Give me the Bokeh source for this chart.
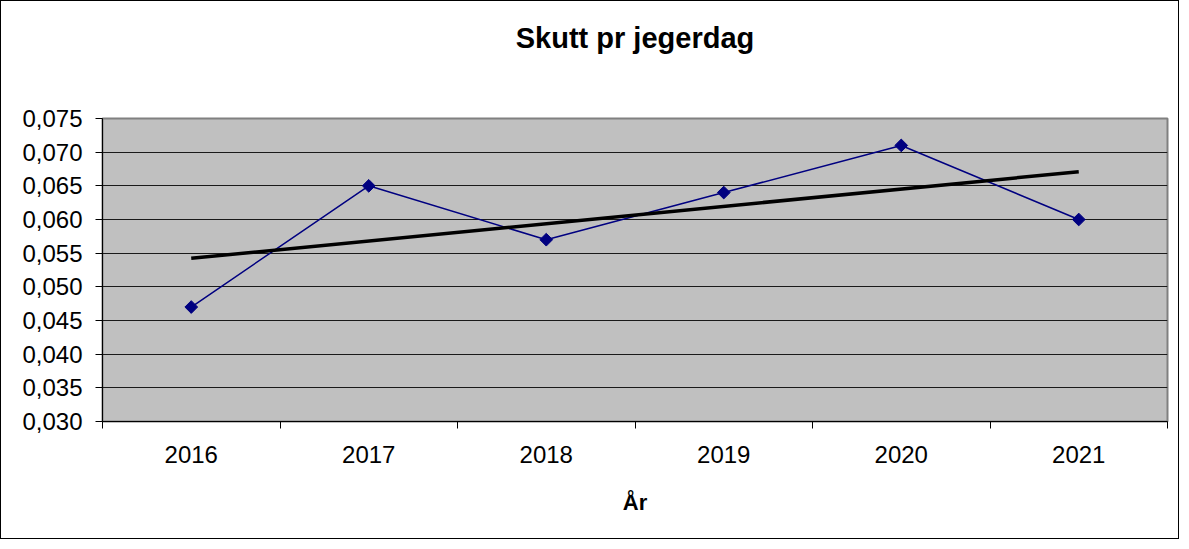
import numpy as np
from bokeh.plotting import figure
from bokeh.models import FixedTicker, Range1d, Title
from bokeh.embed import file_html
from bokeh.resources import INLINE

# ---- data ----
years = ["2016", "2017", "2018", "2019", "2020", "2021"]
values = [0.047, 0.065, 0.057, 0.064, 0.071, 0.060]
y_ticks = [0.030, 0.035, 0.040, 0.045, 0.050, 0.055, 0.060, 0.065, 0.070, 0.075]
y_tick_labels = ["0,030", "0,035", "0,040", "0,045", "0,050",
                 "0,055", "0,060", "0,065", "0,070", "0,075"]
title_text = "Skutt pr jegerdag"
x_title = "År"

FONT = "Liberation Sans"

# category centres on a numeric axis (category i spans i..i+1)
x_pos = [i + 0.5 for i in range(len(years))]
boundaries = list(range(len(years) + 1))

# linear trend line (least squares fit of the series, like Excel's trendline)
slope, intercept = np.polyfit(x_pos, values, 1)
trend_x = [x_pos[0], x_pos[-1]]
trend_y = [slope * x + intercept for x in trend_x]

p = figure(width=1179, height=539, output_backend="svg", toolbar_location=None,
           title=None,
           x_range=Range1d(0, len(years)), y_range=Range1d(y_ticks[0], y_ticks[-1]),
           min_border_left=101, min_border_right=13, min_border_top=117,
           min_border_bottom=119)
p.styles = {"border": "1px solid #000000"}

p.background_fill_color = "#C0C0C0"
p.border_fill_color = "white"
p.outline_line_color = "#808080"
p.outline_line_width = 2

# spacer between plot area and title, then the title itself (further out)
spacer = Title(text=" ", text_font=FONT, text_font_size="29px", standoff=18)
p.add_layout(spacer, "above")
main_title = Title(text=title_text, align="center", text_font=FONT,
                   text_font_size="29px", text_font_style="bold",
                   text_color="black", standoff=26)
p.add_layout(main_title, "above")

# grid
p.xgrid.visible = False
p.ygrid.grid_line_color = "#1a1a1a"
p.ygrid.grid_line_width = 1

# y axis
p.yaxis.ticker = FixedTicker(ticks=y_ticks, minor_ticks=[])
p.yaxis.major_label_overrides = {t: l for t, l in zip(y_ticks, y_tick_labels)}
p.yaxis.major_label_text_font = FONT
p.yaxis.major_label_text_font_size = "24px"
p.yaxis.major_label_text_color = "black"
p.yaxis.major_tick_out = 7
p.yaxis.major_tick_in = 0
p.yaxis.major_tick_line_color = "black"
p.yaxis.axis_line_color = "black"
p.yaxis.major_label_standoff = 13

# x axis
p.xaxis.ticker = FixedTicker(ticks=x_pos, minor_ticks=boundaries)
p.xaxis.major_label_overrides = {x: y for x, y in zip(x_pos, years)}
p.xaxis.major_label_text_font = FONT
p.xaxis.major_label_text_font_size = "24px"
p.xaxis.major_label_text_color = "black"
p.xaxis.major_tick_out = 0
p.xaxis.major_tick_in = 0
p.xaxis.minor_tick_out = 7
p.xaxis.minor_tick_in = 0
p.xaxis.minor_tick_line_color = "black"
p.xaxis.axis_line_color = "black"
p.xaxis.major_label_standoff = 17
p.xaxis.axis_label = x_title
p.xaxis.axis_label_text_font = FONT
p.xaxis.axis_label_text_font_size = "22px"
p.xaxis.axis_label_text_font_style = "bold"
p.xaxis.axis_label_text_color = "black"
p.xaxis.axis_label_standoff = 24

# series
p.line(x_pos, values, line_color="#000080", line_width=1.5)
p.scatter(x_pos, values, marker="square", size=9, angle=np.pi / 4,
          fill_color="#000080", line_color="#000080")

# trend
p.line(trend_x, trend_y, line_color="black", line_width=3.5)

open("out.html", "w").write(file_html(p, INLINE))
